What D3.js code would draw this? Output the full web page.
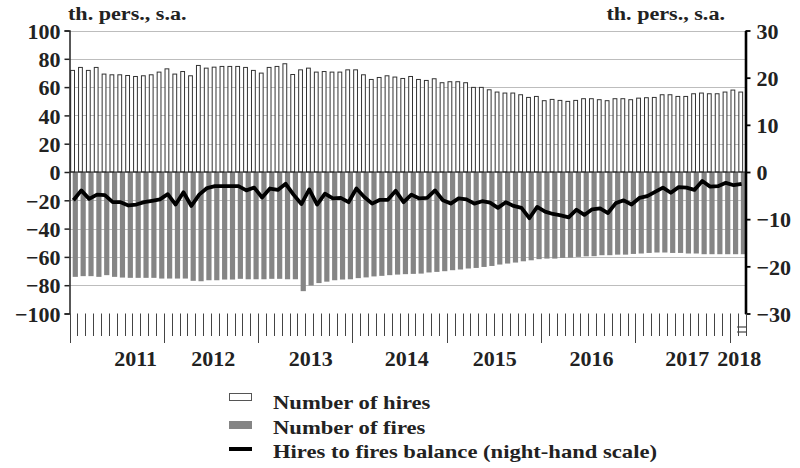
<!DOCTYPE html>
<html><head><meta charset="utf-8">
<script src="https://cdn.jsdelivr.net/npm/d3@7"></script>
<style>
html,body{margin:0;padding:0;background:#fff;}
svg text{font-family:"Liberation Serif","Times New Roman",serif;font-weight:bold;fill:#222;}
</style></head>
<body><svg id="c" width="800" height="468"></svg>
<script>
// Monthly data, Jan 2011 – Feb 2018
const hires = [71.8,73.9,71.8,73.9,69.2,68.7,68.7,68.2,67.5,68.0,68.7,70.6,
  72.9,69.2,71.0,68.0,75.3,73.4,74.1,74.6,74.6,74.6,73.9,71.8,
  69.9,73.9,74.6,76.5,68.9,72.2,73.4,70.6,71.0,70.6,70.6,72.2,
  72.2,68.7,65.4,66.8,68.0,67.1,66.1,67.5,65.4,64.7,65.9,63.1,
  63.8,63.8,63.1,59.8,59.8,58.1,56.5,55.8,55.8,54.6,52.7,53.4,
  50.4,51.3,50.6,49.9,50.6,51.8,51.8,51.1,50.4,51.8,51.8,51.1,
  52.2,52.5,52.7,54.6,54.6,53.4,53.4,55.3,55.8,55.3,55.3,56.5,
  57.9,56.5];
const fires = [-74.1,-73.6,-73.6,-74.1,-72.9,-74.1,-74.6,-74.8,-74.8,-74.8,-74.8,-75.3,
  -75.3,-75.3,-75.3,-76.9,-77.2,-76.5,-76.5,-76.0,-76.0,-75.5,-75.8,-75.8,
  -75.8,-75.5,-75.5,-75.8,-75.8,-84.2,-80.2,-78.5,-77.5,-76.5,-76.0,-75.8,
  -75.0,-74.5,-73.8,-73.4,-72.9,-72.5,-72.2,-72.0,-71.8,-71.0,-70.6,-70.1,
  -69.4,-68.9,-68.2,-67.8,-67.1,-66.4,-65.4,-64.7,-64.0,-63.1,-62.4,-61.6,
  -61.2,-61.2,-60.7,-60.5,-60.0,-59.6,-59.5,-58.8,-58.8,-58.4,-58.4,-57.9,
  -57.6,-57.2,-56.9,-56.9,-57.2,-57.2,-57.6,-57.6,-58.1,-58.1,-58.1,-58.1,
  -58.1,-58.1];
const balance = [-6.0,-3.9,-5.7,-4.8,-4.9,-6.4,-6.4,-7.1,-6.9,-6.4,-6.1,-5.8,
  -4.7,-6.9,-4.3,-7.2,-4.8,-3.4,-3.0,-3.0,-3.0,-3.0,-3.9,-3.3,
  -5.4,-3.5,-3.8,-2.5,-4.8,-6.8,-3.7,-6.9,-4.6,-5.6,-5.5,-6.4,
  -3.5,-5.3,-6.7,-5.9,-5.9,-4.0,-6.4,-4.8,-5.6,-5.5,-3.9,-6.0,
  -6.7,-5.6,-5.8,-6.7,-6.2,-6.5,-7.6,-6.4,-7.2,-7.6,-9.8,-7.4,
  -8.4,-8.9,-9.2,-9.6,-8.0,-9.1,-7.9,-7.7,-8.7,-6.6,-6.0,-6.9,
  -5.5,-5.1,-4.2,-3.3,-4.4,-3.2,-3.3,-3.8,-1.9,-3.1,-3.0,-2.3,
  -2.8,-2.5];
const yearLabels = ["2011","2012","2013","2014","2015","2016","2017","2018"];
const yearLabelPos = [8.4, 18.3, 30.7, 42.9, 54.1, 66.4, 78.6, 85.2]; // in months from Jan 2011
const leftTicks = [100,80,60,40,20,0,-20,-40,-60,-80,-100];
const rightTicks = [30,20,10,0,-10,-20,-30];
const unitLabel = "th. pers., s.a.";
const legendLabels = ["Number of hires","Number of fires","Hires to fires balance (night-hand scale)"];

const svg = d3.select("#c");
const n = hires.length;
const L = 69.5, R = 745.5, T = 30.5, B = 313.5;

const x = d3.scaleBand().domain(d3.range(n)).range([L, R]).padding(0);
const xm = d3.scaleLinear().domain([0, n]).range([L, R]);
const yL = d3.scaleLinear().domain([-100, 100]).range([B, T]);
const yR = d3.scaleLinear().domain([-30, 30]).range([B, T]);
const fmt = d => d < 0 ? "\u2212" + Math.abs(d) : String(d);

// helper: horizontally stretched text
function stext(g, xx, yy, str, size, sx, anchor) {
  return g.append("text").attr("transform", `translate(${xx},${yy}) scale(${sx},1)`)
    .attr("text-anchor", anchor || "start").style("font-size", size + "px").text(str);
}

// gridlines
svg.append("g").selectAll("line").data(leftTicks.filter(d => d !== 0 && d !== -100)).join("line")
  .attr("x1", L).attr("x2", R).attr("y1", d => Math.round(yL(d)) + 0.5).attr("y2", d => Math.round(yL(d)) + 0.5)
  .attr("stroke", "#bdbdbd").attr("stroke-width", 1);

// fires bars
const bw = x.bandwidth();
svg.append("g").selectAll("rect").data(fires).join("rect")
  .attr("x", (d, i) => x(i) + 3.2).attr("width", 5.2)
  .attr("y", yL(0)).attr("height", d => yL(d) - yL(0))
  .attr("fill", "#858585");

// hires bars
svg.append("g").selectAll("rect").data(hires).join("rect")
  .attr("x", (d, i) => x(i) + 1.2).attr("width", 3.8)
  .attr("y", d => yL(d)).attr("height", d => yL(0) - yL(d))
  .attr("fill", "#fff").attr("stroke", "#333").attr("stroke-width", 1);

// zero line
svg.append("line").attr("x1", L).attr("x2", R).attr("y1", yL(0)).attr("y2", yL(0))
  .attr("stroke", "#222").attr("stroke-width", 1.2);

// balance line
const line = d3.line().x((d, i) => x(i) + bw / 2).y(d => yR(d));
svg.append("path").datum(balance).attr("d", line)
  .attr("fill", "none").attr("stroke", "#000").attr("stroke-width", 3.8).attr("stroke-linejoin", "round");

// left axis
const gL = svg.append("g").attr("transform", `translate(${L},0)`)
  .call(d3.axisLeft(yL).tickValues(leftTicks).tickSize(5).tickFormat(fmt));
gL.select(".domain").attr("stroke", "#222").attr("stroke-width", 1.5);
gL.selectAll(".tick line").attr("stroke", "#222").attr("stroke-width", 1.5);
gL.selectAll(".tick text").attr("x", -9).attr("dy", "0.35em")
  .style("font-size", "22px").style("font-family", "Liberation Serif").style("font-weight", "bold").attr("fill", "#222");

// right axis
const gR = svg.append("g").attr("transform", `translate(${R},0)`)
  .call(d3.axisRight(yR).tickValues(rightTicks).tickSize(5).tickSizeOuter(0).tickFormat(fmt));
gR.select(".domain").attr("stroke", "#000").attr("stroke-width", 2.6);
gR.selectAll(".tick line").attr("stroke", "#000").attr("stroke-width", 1.8);
gR.selectAll(".tick text").attr("x", 11).attr("dy", "0.35em")
  .style("font-size", "22px").style("font-family", "Liberation Serif").style("font-weight", "bold").attr("fill", "#222");

// bottom month ticks
const bTicks = d3.range(n + 1);
svg.append("g").selectAll("line").data(bTicks).join("line")
  .attr("x1", d => Math.round(xm(d)) + 0.5).attr("x2", d => Math.round(xm(d)) + 0.5)
  .attr("y1", B).attr("y2", d => d % 12 === 0 ? 343 : 336)
  .attr("stroke", "#444").attr("stroke-width", 1);
// axis break mark
svg.append("g").selectAll("line").data([327, 332]).join("line")
  .attr("x1", xm(n - 1) - 0.5).attr("x2", xm(n) + 0.5).attr("y1", d => d).attr("y2", d => d)
  .attr("stroke", "#444").attr("stroke-width", 1.2);

// year labels
const gy = svg.append("g");
yearLabels.forEach((d, i) => stext(gy, xm(yearLabelPos[i]), 366, d, 20, 1.1, "middle"));

// unit labels
stext(svg, 68, 20, unitLabel, 18, 1.23);
stext(svg, 725, 20, unitLabel, 18, 1.23, "end");

// legend
const lg = svg.append("g");
lg.append("rect").attr("x", 229.5).attr("y", 393.5).attr("width", 22).attr("height", 7)
  .attr("fill", "#fff").attr("stroke", "#555").attr("stroke-width", 1);
lg.append("rect").attr("x", 229).attr("y", 421).attr("width", 23).attr("height", 8).attr("fill", "#858585");
lg.append("line").attr("x1", 229).attr("x2", 252).attr("y1", 449).attr("y2", 449).attr("stroke", "#000").attr("stroke-width", 4);
legendLabels.forEach((d, i) => stext(lg, 273, 409 + i * 24.5, d, 19, 1.19));
</script></body></html>
